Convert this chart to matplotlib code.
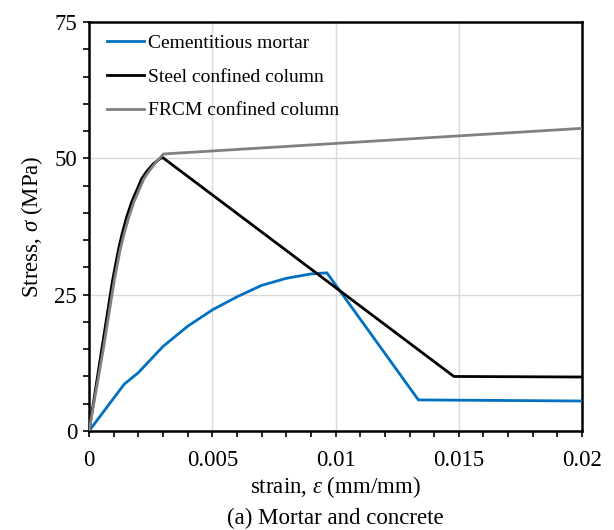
import matplotlib
matplotlib.use("Agg")
import matplotlib.pyplot as plt
from matplotlib.ticker import MultipleLocator

plt.rcParams['font.family'] = ['Liberation Serif', 'DejaVu Serif']
plt.rcParams['mathtext.fontset'] = 'custom'
plt.rcParams['mathtext.rm'] = 'Liberation Serif'
plt.rcParams['mathtext.it'] = 'Liberation Serif:italic'

# Stress-strain curves (strain in mm/mm, stress in MPa)
mortar_strain = [0, 0.00143, 0.0020, 0.0030, 0.0040, 0.0050, 0.0060, 0.0070,
                 0.0080, 0.0090, 0.00965, 0.01336, 0.0200]
mortar_stress = [0, 8.6, 10.7, 15.5, 19.2, 22.2, 24.6, 26.7,
                 28.0, 28.8, 29.0, 5.7, 5.5]

steel_strain = [0, 0.0005, 0.00095, 0.00119, 0.00135, 0.00153, 0.00173,
                0.00194, 0.00214, 0.00234, 0.00261, 0.00281, 0.00297,
                0.0148, 0.0200]
steel_stress = [0, 14.5, 27.5, 33.2, 36.3, 39.3, 42.0,
                44.2, 46.3, 47.6, 49.0, 49.7, 50.2,
                10.0, 9.9]

frcm_strain = [0, 0.00056, 0.00102, 0.00126, 0.00143, 0.00162, 0.00182,
               0.00203, 0.00223, 0.00243, 0.0027, 0.0029, 0.00302, 0.0200]
frcm_stress = [0, 14.5, 27.5, 33.2, 36.3, 39.3, 42.0,
               44.2, 46.3, 47.6, 49.2, 50.2, 50.8, 55.5]

x_ticks = [0, 0.005, 0.01, 0.015, 0.02]
x_tick_labels = ['0', '0.005', '0.01', '0.015', '0.02']
y_ticks = [0, 25, 50, 75]

fig = plt.figure(figsize=(6.14, 5.30), dpi=100)
ax = fig.add_axes([0.145, 0.1868, 0.803, 0.7717])

ax.plot(mortar_strain, mortar_stress, color='#0070C0', lw=2.0,
        label='Cementitious mortar', zorder=3)
ax.plot(steel_strain, steel_stress, color='black', lw=2.0,
        label='Steel confined column', zorder=3)
ax.plot(frcm_strain, frcm_stress, color='#808080', lw=2.0,
        label='FRCM confined column', zorder=4)

ax.set_xlim(0, 0.02)
ax.set_ylim(0, 75)
ax.set_xticks(x_ticks)
ax.set_xticklabels(x_tick_labels)
ax.set_yticks(y_ticks)
ax.xaxis.set_minor_locator(MultipleLocator(0.001))
ax.yaxis.set_minor_locator(MultipleLocator(5))

ax.grid(True, which='major', color='#d9d9d9', lw=1.0, zorder=0)
ax.set_axisbelow(True)

for s in ax.spines.values():
    s.set_linewidth(1.8)
    s.set_color('black')

ax.tick_params(which='both', direction='out', width=1.2, labelsize=16.5,
               top=False, right=False, color='black')
ax.tick_params(axis='x', which='major', length=4.5, pad=9.5)
ax.tick_params(axis='y', which='major', length=4.5, pad=4)
ax.tick_params(which='minor', length=4.5)

ax.set_xlabel(r'strain, $\varepsilon$ (mm/mm)', fontsize=16.5, labelpad=2)
ax.set_ylabel(r'Stress, $\sigma$ (MPa)', fontsize=16.5, labelpad=7)

ax.legend(loc='upper left', bbox_to_anchor=(0.01, 1.0), frameon=False,
          fontsize=14, handlelength=1.9, handletextpad=0.25,
          labelspacing=0.82, borderaxespad=0.25)

fig.text(0.5 * (0.145 + 0.948), 1 - 518 / 530, '(a) Mortar and concrete',
         ha='center', va='center', fontsize=16.5)

fig.savefig('out.png', dpi=100)
